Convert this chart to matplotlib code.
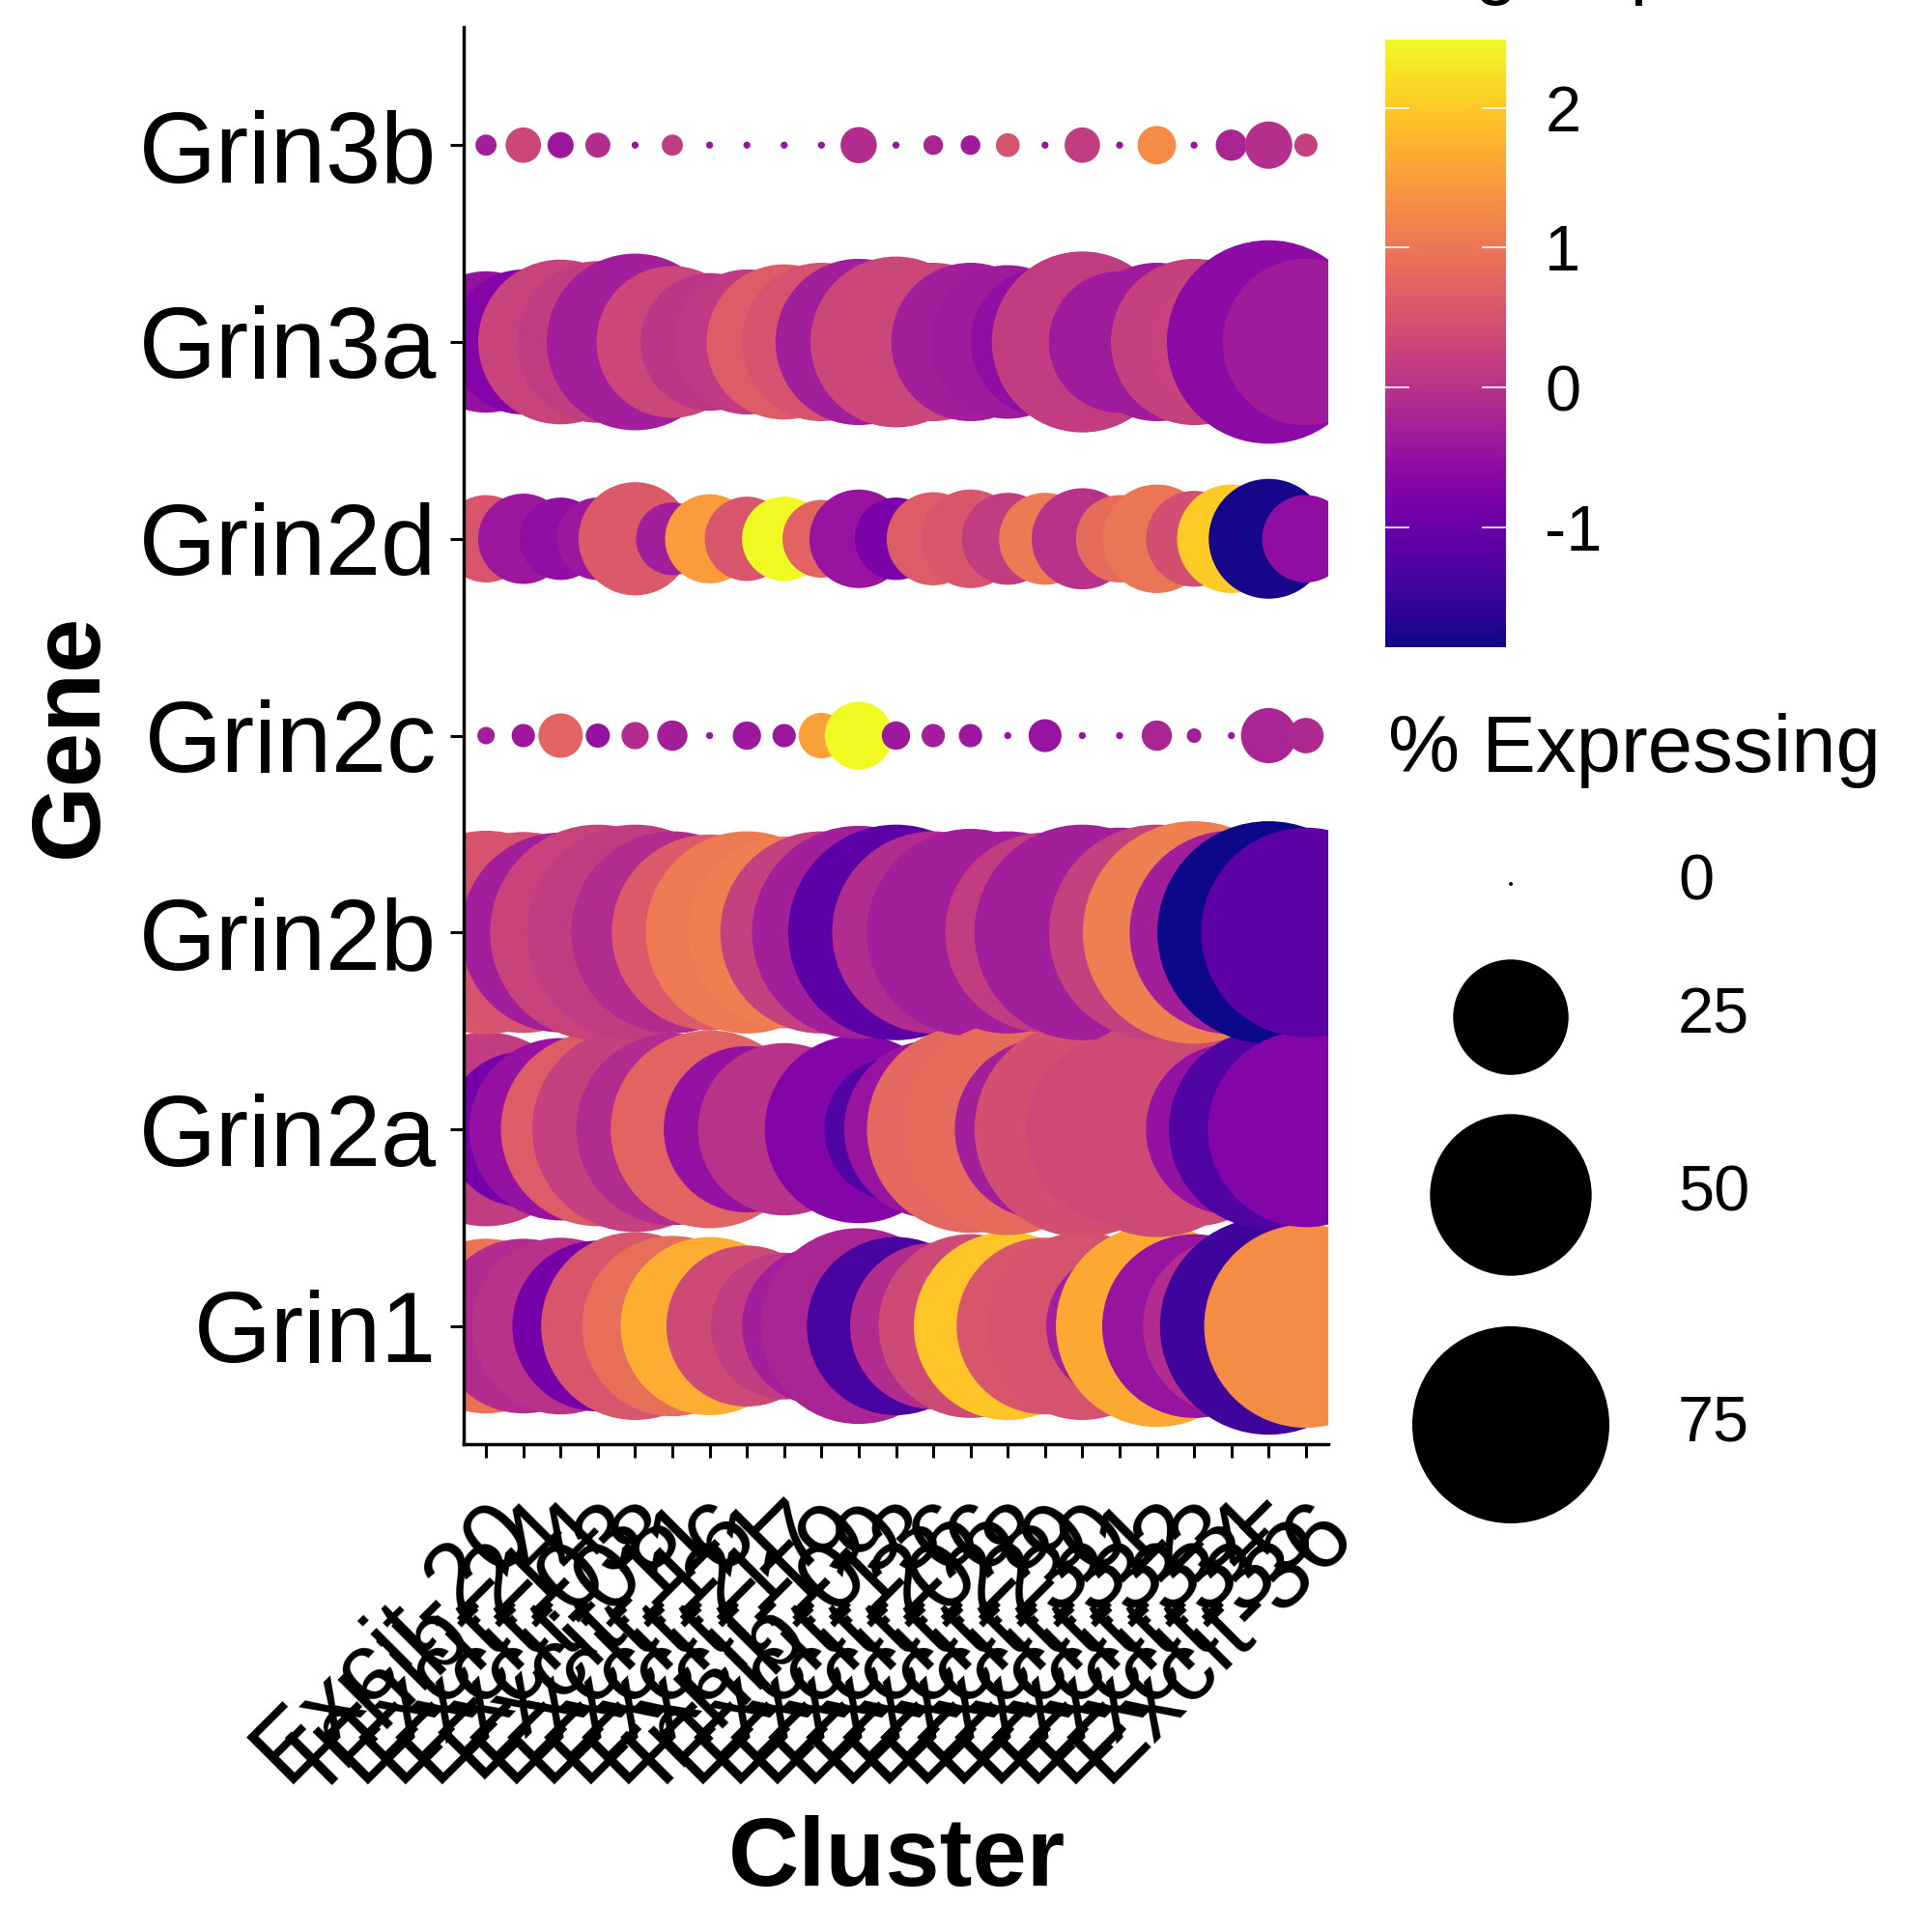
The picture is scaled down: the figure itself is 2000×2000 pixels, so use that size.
import numpy as np
import matplotlib.pyplot as plt
from matplotlib.colors import Normalize
from matplotlib import cm

plt.rcParams['font.family'] = ['Liberation Sans', 'DejaVu Sans']
plt.rcParams['axes.unicode_minus'] = False

genes = ['Grin1', 'Grin2a', 'Grin2b', 'Grin2c', 'Grin2d', 'Grin3a', 'Grin3b']
clusters = ['Excit-20', 'Inhib-24', 'Excit-14', 'Excit-03', 'Excit-08', 'Excit-11',
            'Excit-16', 'Excit-21', 'Excit-17', 'Excit-19', 'Inhib-09', 'Excit-13',
            'Excit-26', 'Excit-06', 'Excit-28', 'Excit-29', 'Excit-30', 'Excit-31',
            'Excit-32', 'Excit-33', 'Excit-34', 'Excit-35', 'Excit-36']

# percent of cells expressing, one list per gene (cluster order as above)
pct_grin1 = [58.6, 58.6, 60, 56, 68, 62.6, 61, 49.6, 41, 48, 74, 61, 53, 65, 68, 60, 68, 41, 78.7, 65, 60, 91.5, 80]
pct_grin2a = [72.6, 46, 64, 72.6, 81.8, 71, 75.6, 53, 57, 21, 68, 39, 61, 83, 86.6, 62.6, 90, 66.8, 90, 72.6, 56, 77, 74]
pct_grin2b = [80, 78, 77, 90, 90, 79, 74, 79, 71, 79, 88, 90, 79, 83, 79, 77, 90, 85, 90, 96, 80, 96, 85]
pct_grin2c = [0.37, 0.76, 3.3, 0.83, 1.1, 1.4, 0.02, 1.2, 0.76, 3.5, 8.2, 1.2, 0.76, 0.76, 0.02, 1.7, 0.02, 0.02, 1.4, 0.23, 0.02, 5.3, 2.0]
pct_grin2d = [14, 15, 12.4, 12.4, 24, 9.5, 14.6, 13, 13, 11, 18, 12.4, 16, 18, 15.6, 15.6, 19, 14, 22, 17, 22, 27, 14]
pct_grin3a = [38, 40, 52, 50, 60, 44, 36, 40, 46, 48, 53, 56, 48, 48, 45, 42, 63, 38, 48, 53, 50, 80, 53]
pct_grin3b = [0.6, 2.0, 1.0, 0.9, 0.02, 0.6, 0.02, 0.02, 0.02, 0.02, 2.1, 0.02, 0.5, 0.5, 0.8, 0.02, 2.0, 0.02, 2.4, 0.02, 1.5, 3.8, 0.75]

# scaled average expression
exp_grin1 = [0.95, -0.1, 0.0, -0.85, 0.55, 0.9, 1.7, 0.35, 0.15, -0.3, -0.2, -1.35, -0.1, 0.35, 1.95, 0.55, 0.5, -0.3, 1.65, -0.45, -0.1, -1.45, 1.3]
exp_grin2a = [0.15, -0.85, -0.5, 0.65, 0.2, -0.1, 0.75, -0.5, 0.0, -0.3, -0.7, -1.25, -0.45, 0.8, 0.85, -0.3, 0.45, 0.35, 0.35, 0.35, -0.5, -1.25, -0.7]
exp_grin2b = [0.55, 0.5, -0.3, 0.25, 0.15, -0.1, 0.6, 1.05, 1.1, 0.2, -0.3, -1.15, -0.1, -0.3, -0.3, 0.15, -0.3, -0.3, 0.2, 1.1, -0.3, -1.86, -1.15]
exp_grin2c = [-0.3, -0.4, 0.75, -0.5, -0.1, -0.3, -0.45, -0.4, -0.4, 1.55, 2.5, -0.4, -0.3, -0.4, -0.45, -0.45, -0.45, -0.45, -0.2, -0.3, -0.45, -0.2, -0.15]
exp_grin2d = [0.55, -0.4, -0.55, -0.4, 0.6, -0.3, 1.5, 0.55, 2.5, 0.75, -0.45, -0.8, 0.65, 0.55, 0.15, 1.05, 0.0, 0.85, 1.0, 0.45, 2.0, -1.8, -0.55]
exp_grin3a = [-0.5, -0.7, 0.25, 0.15, -0.3, 0.3, 0.05, 0.1, 0.65, 0.5, -0.3, 0.3, 0.3, -0.3, -0.35, -0.55, 0.15, -0.35, -0.35, 0.2, 0.25, -0.6, -0.35]
exp_grin3b = [-0.3, 0.3, -0.4, -0.1, -0.45, 0.15, -0.45, -0.45, -0.45, -0.45, -0.1, -0.45, -0.2, -0.35, 0.5, -0.45, 0.15, -0.45, 1.3, -0.45, -0.2, -0.05, 0.2]

size_breaks = [0, 25, 50, 75]
color_ticks = [-1, 0, 1, 2]

pct = [pct_grin1, pct_grin2a, pct_grin2b, pct_grin2c, pct_grin2d, pct_grin3a, pct_grin3b]
exp = [exp_grin1, exp_grin2a, exp_grin2b, exp_grin2c, exp_grin2d, exp_grin3a, exp_grin3b]

DPI = 100


def dot_size(p):
    # area scale: diameter in px grows with sqrt(pct)
    d_px = 4 + 23.1 * np.sqrt(np.asarray(p, dtype=float))
    return (d_px * 72 / DPI) ** 2


# long table, cluster-major like Seurat's DotPlot data
xs, ys, ss, cs = [], [], [], []
for ci in range(len(clusters)):
    for gi in range(len(genes)):
        xs.append(ci)
        ys.append(gi)
        ss.append(pct[gi][ci])
        cs.append(exp[gi][ci])

norm = Normalize(-1.86, 2.49)
cmap = plt.get_cmap('plasma')

fig = plt.figure(figsize=(20, 20), dpi=DPI)
ax = fig.add_axes([0.24, 0.2525, 0.4475, 0.7335])
ax.scatter(xs, ys, s=dot_size(ss), c=cs, cmap=cmap, norm=norm, linewidths=0)

ax.set_xlim(-0.6, len(clusters) - 0.4)
ax.set_ylim(-0.6, len(genes) - 0.4)
ax.set_xticks(range(len(clusters)))
ax.set_xticklabels(clusters, rotation=45, ha='right', va='top',
                   rotation_mode='anchor', fontsize=73)
ax.set_yticks(range(len(genes)))
ax.set_yticklabels(genes, fontsize=74)
for side in ['top', 'right']:
    ax.spines[side].set_visible(False)
for side in ['left', 'bottom']:
    ax.spines[side].set_linewidth(2.5)
ax.tick_params(axis='both', length=10, width=2.2)
ax.tick_params(axis='y', pad=10)
ax.tick_params(axis='x', pad=20)

fig.text(0.05, 0.6195, 'Gene', rotation=90, rotation_mode='anchor',
         ha='center', va='baseline', fontsize=73, fontweight='bold')
fig.text(0.4645, 0.024, 'Cluster', ha='center', va='baseline',
         fontsize=73, fontweight='bold')

# colour bar
cax = fig.add_axes([0.717, 0.665, 0.0625, 0.3145])
cb = fig.colorbar(cm.ScalarMappable(norm=norm, cmap=cmap), cax=cax, ticks=color_ticks)
cb.outline.set_visible(False)
cax.tick_params(direction='in', length=18, width=1.2, colors='white',
                left=True, right=True, labelleft=False, labelright=True,
                labelsize=48, labelcolor='black', pad=29)
# title sits partly above the canvas, as in the original render
fig.text(0.717, 1.0055, 'Avg Expression', ha='left', va='baseline', fontsize=58)

# size legend
lax = fig.add_axes([0, 0, 1, 1])
lax.set_xlim(0, 2000)
lax.set_ylim(2000, 0)
lax.axis('off')
key_y = [915, 1053, 1237, 1475]
lax.scatter([1564] * len(size_breaks), key_y, s=dot_size(size_breaks),
            c='black', linewidths=0)
for b, y in zip(size_breaks, key_y):
    lax.text(1737, y, str(b), ha='left', va='center', fontsize=48)
lax.text(1437, 799, '% Expressing', ha='left', va='baseline', fontsize=60)

fig.savefig('out.png', dpi=DPI)
